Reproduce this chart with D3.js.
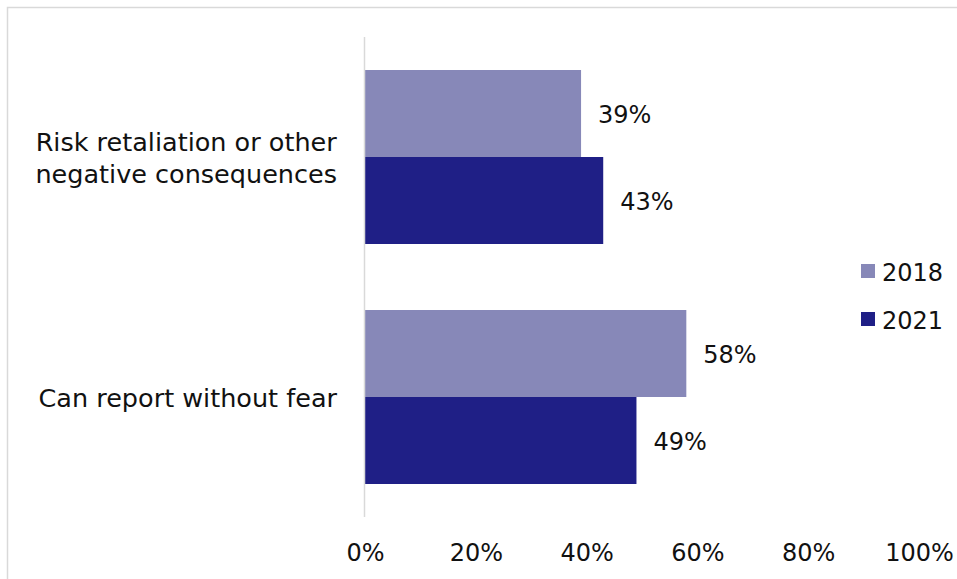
<!DOCTYPE html>
<html>
<head>
<meta charset="utf-8">
<script src="https://cdn.jsdelivr.net/npm/d3@7"></script>
<style>
  html, body { margin: 0; padding: 0; background: #fff; }
  svg { display: block; }
  text { font-family: "DejaVu Sans", sans-serif; fill: #111; }
</style>
</head>
<body>
<svg id="chart" width="957" height="579"></svg>
<script>
// Survey answers, share of respondents
const categories = [
  ["Risk retaliation or other", "negative consequences"],
  ["Can report without fear"]
];
const seriesNames = ["2018", "2021"];
const values2018 = [0.39, 0.58];
const values2021 = [0.43, 0.49];
const xTicks = [0, 0.2, 0.4, 0.6, 0.8, 1.0];

const colors = { "2018": "#8788b8", "2021": "#1f1f86" };
const fontSize = 24;
const catFontSize = 25.5;

const svg = d3.select("#chart");
const W = 957, H = 579;

// chart frame (right and bottom edges fall outside the view)
svg.append("rect")
  .attr("x", 7.5).attr("y", 7.5)
  .attr("width", W + 20).attr("height", H + 20)
  .attr("fill", "none").attr("stroke", "#d9d9d9").attr("stroke-width", 1.5);

const catKeys = categories.map(c => c.join(" "));
const rows = catKeys.map((k, i) => ({ key: k, lines: categories[i], "2018": values2018[i], "2021": values2021[i] }));

const x = d3.scaleLinear().domain([0, 1]).range([365, 919]);
const y = d3.scaleBand().domain(catKeys).range([37, 517]).paddingInner(0.275).paddingOuter(0.1375);
const ySub = d3.scaleBand().domain(seriesNames).range([0, y.bandwidth()]).padding(0);

// bars
const groups = svg.append("g").selectAll("g").data(rows).join("g")
  .attr("transform", d => `translate(0,${y(d.key)})`);

groups.selectAll("rect").data(d => seriesNames.map(s => ({ s, v: d[s] }))).join("rect")
  .attr("x", x(0))
  .attr("y", d => ySub(d.s))
  .attr("width", d => x(d.v) - x(0))
  .attr("height", ySub.bandwidth())
  .attr("fill", d => colors[d.s]);

// value labels
groups.selectAll("text.val").data(d => seriesNames.map(s => ({ s, v: d[s] }))).join("text")
  .attr("class", "val")
  .attr("x", d => x(d.v) + 17)
  .attr("y", d => ySub(d.s) + ySub.bandwidth() / 2 + 9.5)
  .attr("font-size", fontSize)
  .text(d => d3.format(".0%")(d.v));

// vertical category axis line
svg.append("line")
  .attr("x1", 364.5).attr("x2", 364.5)
  .attr("y1", 37).attr("y2", 517)
  .attr("stroke", "#d9d9d9").attr("stroke-width", 1.5);

// category labels: lines centred within a right-aligned block
const labelRight = 337;
rows.forEach(r => {
  const cy = y(r.key) + y.bandwidth() / 2;
  const n = r.lines.length;
  const g = svg.append("g");
  const texts = r.lines.map((line, i) => g.append("text")
    .attr("font-size", catFontSize)
    .attr("text-anchor", "middle")
    .attr("y", cy + 9.5 + (i - (n - 1) / 2) * 32)
    .text(line));
  const maxW = d3.max(texts, t => t.node().getComputedTextLength());
  texts.forEach(t => t.attr("x", labelRight - maxW / 2));
});

// value axis labels
const xAxis = d3.axisBottom(x).tickValues(xTicks).tickFormat(d3.format(".0%")).tickSize(0).tickPadding(0);
const ax = svg.append("g").attr("transform", "translate(0,543)").call(xAxis);
ax.select(".domain").remove();
ax.selectAll("text")
  .attr("font-size", fontSize)
  .attr("font-family", "DejaVu Sans, sans-serif")
  .attr("fill", "#111")
  .attr("dy", "0.75em");

// legend
const legend = svg.append("g").selectAll("g").data(seriesNames).join("g")
  .attr("transform", (d, i) => `translate(861,${264 + i * 48})`);
legend.append("rect").attr("width", 14).attr("height", 14).attr("fill", d => colors[d]);
legend.append("text").attr("x", 21).attr("y", 16.5).attr("font-size", fontSize).text(d => d);
</script>
</body>
</html>
